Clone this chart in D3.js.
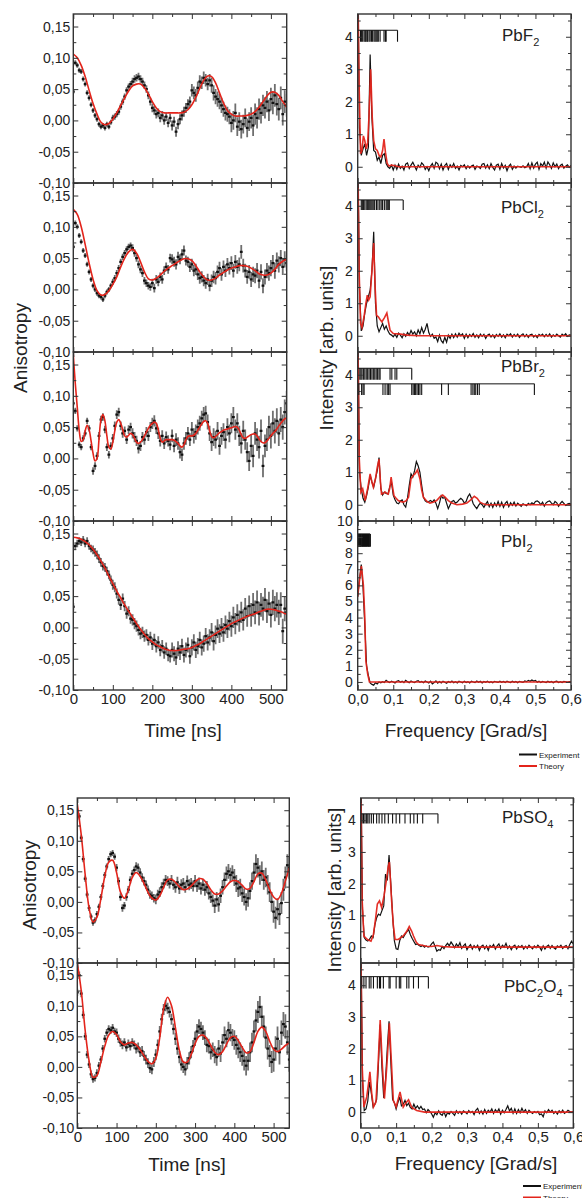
<!DOCTYPE html>
<html>
<head>
<meta charset="utf-8">
<script src="https://cdn.jsdelivr.net/npm/d3@7"></script>
<style>
body { margin: 0; background: #fff; }
svg { display: block; font-family: "Liberation Sans", Arial, sans-serif; }
</style>
</head>
<body>
<svg id="fig" width="582" height="1198"></svg>
<script>
// ---- data ----
// anisotropy: experiment every 5 ns from 0 to 540 ns, fits every 10 ns (PbBr2 every 5 ns)
const expStep = 5;
const timeTicks = [0, 100, 200, 300, 400, 500];
const anisTicks = [-0.10, -0.05, 0.00, 0.05, 0.10, 0.15];
const freqTicks = [0, 0.1, 0.2, 0.3, 0.4, 0.5, 0.6];
const intTicks = [0, 1, 2, 3, 4];
const intTicksI2 = [0, 1, 2, 3, 4, 5, 6, 7, 8, 9, 10];

const anisF2 = [
  0.046,0.092,0.088,0.080,0.078,0.066,0.058,0.044,0.036,0.025,
  0.016,0.008,0.002,-0.006,-0.010,-0.008,-0.012,-0.006,-0.010,-0.003,
  0.004,0.006,0.010,0.014,0.022,0.030,0.038,0.048,0.054,0.058,
  0.062,0.066,0.068,0.070,0.066,0.062,0.056,0.050,0.040,0.030,
  0.020,0.016,0.010,0.012,0.004,0.008,0.000,0.006,-0.004,0.004,
  -0.008,-0.002,-0.018,-0.006,0.002,0.008,0.014,0.020,0.026,0.030,
  0.048,0.044,0.040,0.052,0.062,0.060,0.068,0.064,0.058,0.064,
  0.056,0.044,0.038,0.034,0.030,0.024,0.018,0.012,0.010,0.006,
  -0.004,0.000,0.012,-0.010,-0.002,-0.014,-0.006,0.004,-0.012,-0.002,
  0.004,-0.008,0.010,0.004,0.018,0.012,0.024,0.020,0.030,0.016,
  0.034,0.028,0.040,0.026,0.018,0.036,0.010,0.030,0.024];
const fitF2 = [
  0.106,0.100,0.088,0.070,0.048,0.027,0.010,-0.003,-0.007,-0.005,
  0.002,0.012,0.024,0.036,0.047,0.055,0.058,0.058,0.052,0.042,
  0.030,0.020,0.014,0.012,0.012,0.012,0.012,0.012,0.013,0.017,
  0.025,0.037,0.051,0.064,0.071,0.070,0.060,0.044,0.028,0.016,
  0.010,0.007,0.007,0.007,0.008,0.010,0.014,0.021,0.030,0.039,
  0.045,0.045,0.040,0.030,0.021];
const errF2 = [0.004,0.004,0.005,0.006,0.007,0.008,0.010,0.012,0.015,0.017,0.018];

const anisCl2 = [
  0.068,0.106,0.100,0.086,0.076,0.062,0.054,0.040,0.028,0.016,
  0.006,0.000,-0.006,-0.010,-0.012,-0.016,-0.010,-0.004,0.000,0.006,
  0.012,0.018,0.026,0.034,0.044,0.052,0.058,0.064,0.068,0.070,
  0.066,0.058,0.050,0.040,0.032,0.026,0.014,0.010,0.006,0.004,
  0.010,0.002,0.016,0.012,0.020,0.016,0.030,0.036,0.032,0.050,
  0.048,0.044,0.040,0.052,0.048,0.056,0.062,0.046,0.044,0.036,
  0.040,0.030,0.032,0.024,0.018,0.020,0.014,0.010,0.016,0.006,
  0.014,0.020,0.018,0.028,0.034,0.024,0.036,0.030,0.040,0.034,
  0.042,0.030,0.044,0.036,0.040,0.060,0.038,0.030,0.020,0.028,
  0.016,0.024,0.022,0.030,0.014,0.028,0.006,0.020,0.030,0.026,
  0.034,0.042,0.030,0.046,0.040,0.050,0.036,0.048,0.042];
const fitCl2 = [
  0.128,0.120,0.100,0.072,0.042,0.016,-0.002,-0.009,-0.008,-0.002,
  0.008,0.020,0.036,0.050,0.060,0.064,0.058,0.044,0.028,0.017,
  0.015,0.018,0.023,0.029,0.034,0.038,0.042,0.046,0.049,0.049,
  0.046,0.038,0.028,0.020,0.015,0.015,0.018,0.023,0.027,0.031,
  0.034,0.036,0.038,0.038,0.037,0.034,0.030,0.025,0.023,0.023,
  0.026,0.032,0.040,0.045,0.048];
const errCl2 = [0.004,0.004,0.005,0.006,0.007,0.008,0.009,0.010,0.011,0.012,0.013];

const anisBr2 = [
  0.088,0.076,0.048,0.022,0.018,0.032,0.040,0.060,0.048,0.018,
  -0.020,-0.012,0.004,0.036,0.062,0.066,0.046,0.018,0.006,0.020,
  0.032,0.052,0.070,0.074,0.052,0.040,0.044,0.030,0.046,0.050,
  0.040,0.034,0.028,0.016,0.020,0.034,0.030,0.042,0.036,0.050,
  0.056,0.060,0.048,0.040,0.028,0.036,0.024,0.034,0.028,0.022,
  0.036,0.020,0.030,0.024,0.010,0.006,0.024,0.032,0.040,0.030,
  0.046,0.036,0.042,0.050,0.056,0.064,0.070,0.072,0.058,0.040,
  0.026,0.034,0.030,0.044,0.020,0.036,0.042,0.030,0.050,0.040,
  0.056,0.066,0.046,0.056,0.036,0.024,0.044,0.030,0.010,-0.004,
  0.020,0.004,0.040,0.030,0.018,0.044,-0.012,0.020,0.030,0.050,
  0.036,0.056,0.044,0.060,0.040,0.062,0.050,0.074,0.088];
const fitBr2 = [
  0.166,0.120,0.082,0.045,0.027,0.030,0.044,0.053,0.046,0.028,
  0.008,-0.004,0.000,0.030,0.062,0.070,0.060,0.036,0.018,0.015,
  0.026,0.044,0.058,0.062,0.056,0.046,0.036,0.034,0.037,0.040,
  0.038,0.032,0.026,0.024,0.026,0.030,0.036,0.042,0.048,0.053,
  0.056,0.058,0.056,0.046,0.032,0.026,0.028,0.030,0.030,0.030,
  0.030,0.029,0.027,0.024,0.020,0.018,0.022,0.030,0.035,0.036,
  0.036,0.037,0.040,0.045,0.050,0.055,0.059,0.060,0.056,0.044,
  0.035,0.033,0.035,0.038,0.041,0.043,0.045,0.046,0.047,0.048,
  0.049,0.050,0.051,0.050,0.045,0.038,0.033,0.032,0.034,0.036,
  0.038,0.039,0.039,0.036,0.031,0.027,0.025,0.025,0.028,0.032,
  0.036,0.040,0.043,0.047,0.052,0.056,0.060,0.063,0.065];
const errBr2 = [0.005,0.006,0.007,0.008,0.009,0.010,0.012,0.014,0.016,0.018,0.020];

const anisI2 = [
  0.033,0.130,0.134,0.138,0.136,0.140,0.134,0.138,0.130,0.126,
  0.124,0.120,0.116,0.110,0.104,0.098,0.096,0.090,0.084,0.076,
  0.068,0.064,0.054,0.044,0.036,0.046,0.034,0.022,0.026,0.014,
  0.012,0.006,0.002,-0.004,-0.010,-0.008,-0.014,-0.012,-0.020,-0.016,
  -0.026,-0.020,-0.030,-0.024,-0.036,-0.030,-0.040,-0.034,-0.044,-0.046,
  -0.036,-0.042,-0.048,-0.034,-0.040,-0.030,-0.044,-0.036,-0.028,-0.046,
  -0.032,-0.024,-0.036,-0.030,-0.020,-0.032,-0.026,-0.014,-0.024,-0.016,
  -0.008,-0.022,-0.012,-0.002,-0.010,0.000,-0.008,0.004,-0.002,0.010,
  0.002,0.016,0.006,0.020,0.010,0.024,0.012,0.030,0.018,0.034,
  0.020,0.036,0.024,0.040,0.022,0.036,0.030,0.044,0.026,0.038,
  0.020,0.040,0.030,0.036,0.024,0.036,-0.006,0.030,0.024];
const fitI2 = [
  0.144,0.143,0.141,0.137,0.132,0.125,0.116,0.106,0.095,0.082,
  0.070,0.058,0.047,0.036,0.026,0.016,0.006,-0.003,-0.011,-0.018,
  -0.023,-0.028,-0.031,-0.034,-0.036,-0.037,-0.037,-0.036,-0.035,-0.034,
  -0.032,-0.029,-0.026,-0.022,-0.018,-0.014,-0.010,-0.006,-0.002,0.002,
  0.006,0.009,0.012,0.015,0.018,0.020,0.022,0.025,0.027,0.029,
  0.029,0.028,0.026,0.024,0.021];
const errI2 = [0.006,0.007,0.008,0.009,0.010,0.012,0.013,0.015,0.017,0.019,0.020];

const anisSO4 = [
  0.140,0.140,0.105,0.070,0.038,0.012,-0.010,-0.024,-0.034,-0.030,
  -0.020,-0.008,0.008,0.026,0.044,0.058,0.070,0.078,0.080,0.074,
  0.056,0.034,0.008,-0.010,-0.006,0.008,0.020,0.036,0.046,0.052,
  0.058,0.056,0.048,0.040,0.034,0.028,0.020,0.012,0.010,0.006,
  0.004,0.012,0.016,0.024,0.030,0.036,0.034,0.030,0.036,0.028,
  0.024,0.032,0.022,0.028,0.030,0.024,0.034,0.028,0.030,0.026,
  0.034,0.026,0.030,0.022,0.028,0.020,0.024,0.014,0.008,0.002,
  -0.006,0.004,-0.004,0.010,0.024,0.036,0.046,0.050,0.044,0.048,
  0.040,0.030,0.022,0.024,0.014,0.008,0.000,0.006,0.018,0.034,
  0.048,0.062,0.056,0.044,0.050,0.036,0.040,0.028,0.016,0.000,
  -0.016,-0.026,-0.012,-0.020,-0.002,0.020,0.040,0.060,0.056];
const fitSO4 = [
  0.160,0.110,0.045,-0.010,-0.033,-0.025,0.005,0.042,0.065,0.068,
  0.048,0.016,0.006,0.020,0.040,0.048,0.042,0.030,0.016,0.006,
  0.003,0.010,0.024,0.036,0.037,0.032,0.025,0.020,0.021,0.026,
  0.033,0.038,0.037,0.030,0.020,0.013,0.013,0.018,0.026,0.033,
  0.035,0.033,0.027,0.021,0.022,0.033,0.046,0.047,0.036,0.020,
  0.008,0.004,0.014,0.034,0.056];
const errSO4 = [0.005,0.005,0.006,0.007,0.008,0.009,0.010,0.012,0.014,0.016,0.018];

const anisC2O4 = [
  0.122,0.150,0.120,0.085,0.050,0.020,0.004,-0.012,-0.020,-0.018,
  -0.010,0.002,0.012,0.030,0.046,0.056,0.062,0.060,0.064,0.058,
  0.056,0.046,0.040,0.036,0.040,0.032,0.038,0.034,0.040,0.036,
  0.030,0.032,0.024,0.026,0.018,0.012,0.006,-0.002,-0.004,0.008,
  0.020,0.036,0.058,0.078,0.094,0.100,0.096,0.090,0.078,0.062,
  0.046,0.030,0.016,0.004,0.000,-0.004,0.006,0.014,0.024,0.034,
  0.046,0.058,0.066,0.062,0.056,0.048,0.036,0.034,0.024,0.028,
  0.020,0.016,0.030,0.022,0.040,0.052,0.046,0.060,0.056,0.048,
  0.044,0.036,0.030,0.024,0.018,0.010,0.002,0.010,0.024,0.040,
  0.058,0.076,0.090,0.098,0.082,0.066,0.048,0.030,0.018,0.008,
  0.012,0.030,0.046,0.024,0.056,0.070,0.066,0.040,0.012];
const fitC2O4 = [
  0.170,0.125,0.060,0.010,-0.017,-0.014,0.008,0.034,0.052,0.058,
  0.053,0.041,0.036,0.039,0.040,0.036,0.028,0.018,0.009,0.005,
  0.014,0.048,0.095,0.114,0.100,0.064,0.027,0.008,0.008,0.020,
  0.038,0.050,0.052,0.046,0.035,0.024,0.020,0.025,0.037,0.048,
  0.050,0.043,0.032,0.023,0.025,0.040,0.058,0.065,0.058,0.042,
  0.029,0.025,0.029,0.035,0.039];
const errC2O4 = [0.006,0.006,0.007,0.008,0.009,0.010,0.012,0.014,0.016,0.018,0.020];

// spectra: experiment every 0.005 Grad/s from 0 to 0.6, theory as [freq, value]
const specStep = 0.005;
const specF2 = [
  6.0,1.2,0.35,0.55,0.7,0.35,0.6,3.45,1.5,0.5,
  0.45,0.2,0.3,0.1,0.35,0.4,0.1,0.0,-0.05,0.05,
  -0.1,0.05,-0.08,0.08,-0.05,0.02,-0.1,0.08,0.12,-0.05,
  0.05,0.14,0.02,-0.1,0.05,-0.02,0.12,0.06,-0.08,0.0,
  -0.12,0.02,0.1,-0.05,0.14,0.1,-0.06,0.08,-0.1,0.04,
  0.1,-0.08,0.06,-0.02,0.1,-0.05,0.02,-0.1,0.04,0.0,
  0.06,-0.06,0.03,-0.04,0.02,0.05,-0.08,0.02,0.0,-0.05,
  0.08,0.1,-0.04,0.06,-0.06,0.1,-0.02,-0.1,0.05,0.08,
  -0.08,0.1,-0.04,0.04,-0.12,0.02,0.08,-0.08,0.02,-0.04,
  0.02,0.0,-0.02,0.03,-0.03,0.0,0.1,-0.06,0.12,-0.04,
  0.08,0.14,-0.08,0.1,0.02,0.14,-0.04,0.15,0.06,-0.05,
  0.12,0.0,0.08,-0.06,0.04,0.08,-0.04,0.02,0.06,-0.02,
  0.04];
const theoF2 = [[0,6],[0.004,2.5],[0.008,0.4],[0.012,0.5],[0.016,0.95],[0.02,0.8],[0.024,0.55],
  [0.028,0.75],[0.032,1.6],[0.0365,3.0],[0.041,1.5],[0.045,0.8],[0.05,0.55],[0.055,0.5],[0.06,0.35],
  [0.065,0.3],[0.07,0.5],[0.074,0.85],[0.078,0.45],[0.083,0.1],[0.088,0.02],[0.095,0.05],[0.105,0.03],
  [0.115,0],[0.6,0]];
const sticksF2 = [0.008,0.011,0.014,0.018,0.021,0.023,0.026,0.028,0.032,0.035,0.039,0.042,0.046,
  0.049,0.052,0.055,0.058,0.063,0.074,0.078,0.080,0.112];

const specCl2 = [
  6.0,1.5,0.15,0.3,0.7,1.0,1.2,1.4,2.0,3.2,
  1.0,0.3,0.12,0.25,0.38,0.2,0.3,0.15,0.05,0.02,
  -0.03,0.05,-0.05,0.08,0.02,-0.06,0.06,-0.02,0.1,0.02,
  0.16,0.05,0.12,0.0,0.18,0.06,0.25,0.08,0.2,0.38,
  0.1,-0.02,0.05,-0.08,-0.04,-0.18,0.02,-0.15,-0.22,-0.05,
  -0.2,0.02,-0.08,0.05,-0.06,0.06,-0.04,0.08,0.0,0.06,
  -0.08,0.05,-0.06,0.04,-0.02,0.07,-0.05,0.03,-0.06,0.05,
  -0.02,0.04,-0.08,0.02,0.05,-0.04,0.03,-0.06,0.04,-0.02,
  0.06,-0.04,0.03,-0.06,0.05,0.0,0.06,-0.04,0.04,-0.02,
  0.05,-0.05,0.02,0.06,-0.03,0.04,-0.05,0.03,0.05,-0.04,
  0.02,-0.06,0.04,0.0,0.05,-0.03,0.04,-0.02,0.06,-0.04,
  0.03,-0.02,0.05,0.0,-0.04,0.05,0.0,0.06,-0.02,0.03,
  0.02];
const theoCl2 = [[0,6],[0.004,2.0],[0.008,0.38],[0.012,0.25],[0.018,0.6],[0.023,1.0],[0.027,1.25],
  [0.031,1.1],[0.035,1.2],[0.04,2.0],[0.045,2.85],[0.049,1.5],[0.053,0.63],[0.058,0.58],[0.063,0.5],
  [0.068,0.43],[0.075,0.55],[0.082,0.7],[0.087,0.4],[0.091,0.17],[0.1,0.07],[0.12,0.05],[0.14,0.02],
  [0.17,0],[0.6,0]];
const sticksCl2 = [0.010,0.013,0.016,0.020,0.024,0.028,0.031,0.034,0.037,0.040,0.043,0.046,0.048,
  0.053,0.057,0.062,0.066,0.070,0.075,0.080,0.083,0.086,0.089,0.128];

const specBr2 = [
  6.0,1.0,0.49,0.2,0.08,0.28,0.55,0.9,0.7,0.54,
  0.8,1.05,1.45,0.5,0.3,0.39,0.35,0.33,0.55,0.69,
  0.3,0.15,0.05,0.03,0.12,0.15,0.0,-0.07,0.2,0.6,
  0.95,0.85,1.05,1.33,1.2,1.0,0.6,0.23,0.12,0.08,
  0.1,0.13,0.08,0.15,0.05,-0.12,0.05,0.28,0.2,0.23,
  0.05,-0.12,0.0,0.1,0.13,0.05,0.08,0.15,0.2,0.15,
  0.05,0.1,0.25,0.33,0.2,0.03,-0.05,-0.12,-0.02,0.05,
  0.0,-0.08,0.02,0.1,-0.06,0.05,-0.08,0.06,-0.04,0.1,
  -0.05,0.08,-0.08,0.04,0.1,-0.06,0.06,-0.02,0.08,-0.04,
  0.05,0.0,-0.05,0.03,0.0,-0.03,0.04,0.0,0.06,0.02,
  0.1,0.12,0.08,0.0,0.08,-0.04,0.06,0.1,0.12,0.05,
  0.0,0.1,0.06,-0.05,0.04,0.1,0.04,-0.02,0.02,0.04,
  0.02];
const theoBr2 = [[0,6],[0.004,1.5],[0.009,0.39],[0.014,0.49],[0.021,0.13],[0.028,0.5],[0.035,0.95],
  [0.04,0.7],[0.044,0.54],[0.05,0.8],[0.055,1.15],[0.06,1.4],[0.064,0.7],[0.067,0.33],[0.072,0.35],
  [0.077,0.39],[0.082,0.35],[0.086,0.33],[0.09,0.5],[0.094,0.85],[0.098,0.55],[0.102,0.28],[0.108,0.2],
  [0.114,0.13],[0.12,0.1],[0.128,0.08],[0.136,0.12],[0.143,0.23],[0.15,0.8],[0.156,0.9],[0.161,0.95],
  [0.168,1.07],[0.175,0.8],[0.18,0.45],[0.185,0.23],[0.195,0.1],[0.203,0.05],[0.212,0.08],[0.222,0.13],
  [0.232,0.25],[0.239,0.3],[0.247,0.22],[0.255,0.13],[0.265,0.05],[0.279,0],[0.295,0.02],[0.307,0.05],
  [0.318,0.15],[0.328,0.26],[0.336,0.2],[0.344,0.08],[0.355,0.02],[0.363,0],[0.6,0]];
const sticksBr2a = [0.006,0.009,0.012,0.016,0.020,0.024,0.028,0.032,0.036,0.040,0.044,0.048,0.052,
  0.056,0.060,0.063,0.091,0.096,0.105,0.110,0.152];
const sticksBr2b = [0.003,0.011,0.015,0.018,0.071,0.077,0.083,0.087,0.091,0.152,0.156,0.160,0.163,
  0.167,0.171,0.175,0.180,0.236,0.255,0.319,0.324,0.328,0.332,0.337,0.342,0.497];

const specI2 = [
  5.3,6.4,7.3,5.9,3.5,1.0,0.4,-0.06,-0.15,-0.2,
  -0.05,-0.12,0.0,-0.05,0.02,-0.03,0.1,0.02,-0.04,0.05,
  0.0,-0.06,0.04,0.08,-0.02,0.05,-0.04,0.1,0.02,-0.05,
  0.06,0.0,-0.04,0.04,0.08,-0.02,0.03,-0.05,0.06,0.0,
  -0.06,0.05,-0.12,-0.04,0.06,-0.08,0.02,-0.06,0.05,-0.02,
  -0.08,0.03,-0.04,0.05,-0.05,0.02,-0.06,0.04,0.0,-0.05,
  0.05,-0.03,0.02,-0.06,0.04,0.0,-0.04,0.06,-0.02,0.04,
  -0.06,0.03,-0.02,0.05,-0.04,0.02,-0.05,0.04,0.0,-0.03,
  0.04,-0.02,0.03,-0.04,0.05,0.0,-0.04,0.04,-0.02,0.03,
  -0.05,0.04,0.0,-0.03,0.06,0.02,0.1,0.04,0.12,0.06,
  0.1,-0.02,0.05,-0.04,0.03,0.0,-0.04,0.04,-0.02,0.03,
  -0.05,0.02,0.05,-0.03,0.02,-0.04,0.03,0.0,-0.03,0.02,
  0.0];
const theoI2 = [[0,5.3],[0.005,6.3],[0.0105,7.2],[0.016,6.0],[0.02,4.0],[0.023,1.3],[0.028,0.5],
  [0.033,0],[0.6,0]];
const sticksI2 = [0.002,0.004,0.007,0.009,0.012,0.014,0.017,0.019,0.022,0.024,0.027,0.030,0.032,0.035];

const specSO4 = [
  6.0,1.2,0.3,0.22,0.19,0.25,0.35,0.3,0.7,0.93,
  1.04,1.0,1.15,1.3,2.3,2.1,2.9,2.0,1.0,0.2,
  -0.05,-0.07,0.2,0.35,0.3,0.4,0.48,0.56,0.4,0.28,
  0.18,0.08,0.1,0.05,0.02,0.06,0.0,0.04,0.0,0.02,
  0.1,0.16,0.02,-0.13,-0.08,-0.1,0.02,-0.05,0.05,0.12,
  0.04,0.16,0.08,-0.02,0.1,0.02,0.14,-0.04,0.04,0.1,
  -0.08,0.02,0.08,-0.06,0.05,-0.02,0.06,-0.1,0.02,0.06,
  -0.05,0.04,-0.1,0.05,0.0,0.08,-0.06,0.04,0.1,-0.04,
  0.06,0.0,0.12,-0.04,0.04,-0.08,0.02,0.06,-0.06,0.04,
  0.0,0.05,-0.06,0.03,-0.04,0.06,0.0,-0.05,0.04,-0.02,
  0.06,0.0,-0.1,0.04,-0.06,0.02,0.06,-0.04,0.05,-0.02,
  -0.06,0.04,0.0,0.06,-0.04,0.02,0.05,-0.05,0.08,0.19,
  0.1];
const theoSO4 = [[0,6],[0.004,1.5],[0.009,0.35],[0.019,0.24],[0.029,0.19],[0.036,0.4],[0.042,0.9],
  [0.047,1.36],[0.053,1.46],[0.059,1.25],[0.066,1.62],[0.073,2.15],[0.078,2.55],[0.081,2.68],[0.087,1.5],
  [0.092,0.7],[0.097,0.24],[0.106,0.24],[0.12,0.35],[0.13,0.5],[0.137,0.65],[0.144,0.5],[0.149,0.35],
  [0.157,0.15],[0.163,0.08],[0.186,0.03],[0.2,0.02],[0.215,0.05],[0.23,0.02],[0.26,0],[0.6,0]];
const sticksSO4 = [0.004,0.008,0.012,0.016,0.020,0.024,0.030,0.036,0.045,0.052,0.060,0.068,0.078,
  0.090,0.100,0.110,0.125,0.140,0.150,0.160,0.175,0.218];

const specC2O4 = [
  6.0,1.0,0.05,0.1,0.35,0.95,0.6,0.16,0.25,0.4,
  1.5,2.76,1.4,0.45,1.0,2.0,2.86,1.6,0.4,0.3,
  0.1,0.3,0.48,0.2,0.25,0.37,0.2,0.28,0.15,0.1,
  0.25,0.12,0.2,0.1,0.18,0.08,0.1,-0.02,0.08,0.02,
  -0.05,-0.16,-0.02,-0.08,0.04,-0.06,-0.1,0.02,-0.14,-0.02,
  -0.06,0.02,-0.04,-0.1,0.04,-0.04,0.02,-0.06,0.04,0.0,
  -0.05,0.05,-0.02,0.02,-0.08,0.06,0.12,-0.04,0.04,-0.06,
  0.08,-0.04,0.06,0.0,0.1,-0.04,0.08,0.0,0.1,-0.06,
  0.06,-0.02,0.08,0.2,0.04,0.12,-0.04,0.1,-0.04,0.08,
  -0.02,0.12,0.0,0.08,-0.04,0.06,0.0,-0.04,0.02,-0.02,
  0.02,-0.08,-0.06,-0.15,0.04,-0.02,0.08,0.0,0.06,-0.04,
  0.02,-0.06,0.04,-0.02,0.06,-0.04,0.0,0.06,0.02,0.0,
  0.02];
const theoC2O4 = [[0,6],[0.004,1.5],[0.009,0.16],[0.017,0.48],[0.022,0.9],[0.026,1.27],[0.031,0.6],
  [0.036,0.16],[0.043,0.32],[0.049,1.5],[0.055,2.9],[0.061,1.5],[0.067,0.42],[0.074,1.5],[0.081,2.8],
  [0.087,1.5],[0.092,0.37],[0.1,0.16],[0.111,0.64],[0.12,0.16],[0.128,0.3],[0.135,0.39],[0.144,0.15],
  [0.158,0.05],[0.18,0],[0.6,0]];
const sticksC2O4 = [0.003,0.009,0.015,0.024,0.029,0.036,0.047,0.053,0.056,0.064,0.080,0.083,0.100,
  0.109,0.113,0.130,0.136,0.149,0.163,0.191];

// ---- drawing ----
const svg = d3.select('#fig');
const frameColor = '#333';
const fitRed = '#e3241b';
const font = '"Liberation Sans", Arial, sans-serif';

function comma(v, n) {
  return (v < 0 ? '-' : '') + Math.abs(v).toFixed(n).replace('.', ',');
}

let clipCount = 0;
function clipRect(x0, y0, x1, y1) {
  const id = 'clip' + (clipCount++);
  svg.append('clipPath').attr('id', id).append('rect')
    .attr('x', x0).attr('y', y0).attr('width', x1 - x0).attr('height', y1 - y0);
  return 'url(#' + id + ')';
}

function styleAxis(g, size) {
  g.select('.domain').remove();
  g.selectAll('.tick line').attr('stroke', frameColor).attr('stroke-width', 1);
  g.selectAll('.tick text').attr('fill', '#222').attr('font-size', size).attr('font-family', font);
}

function frameAxes(x, y, o) {
  const [x0, x1] = x.range();
  const [y1, y0] = y.range();
  svg.append('g').attr('transform', `translate(${x0},0)`)
    .call(d3.axisLeft(y).tickValues(o.yMajor).tickSize(-5).tickPadding(o.yPad).tickFormat(o.yFmt))
    .call(g => styleAxis(g, o.ySize));
  svg.append('g').attr('transform', `translate(${x0},0)`)
    .call(d3.axisLeft(y).tickValues(o.yMinor).tickSize(-3).tickFormat(''))
    .call(g => styleAxis(g, 0));
  svg.append('g').attr('transform', `translate(${x1},0)`)
    .call(d3.axisRight(y).tickValues(o.yMajor).tickSize(-5).tickFormat(''))
    .call(g => styleAxis(g, 0));
  svg.append('g').attr('transform', `translate(${x1},0)`)
    .call(d3.axisRight(y).tickValues(o.yMinor).tickSize(-3).tickFormat(''))
    .call(g => styleAxis(g, 0));
  svg.append('g').attr('transform', `translate(0,${y0})`)
    .call(d3.axisTop(x).tickValues(o.xMajor).tickSize(-5).tickFormat(''))
    .call(g => styleAxis(g, 0));
  svg.append('g').attr('transform', `translate(0,${y0})`)
    .call(d3.axisTop(x).tickValues(o.xMinor).tickSize(-3).tickFormat(''))
    .call(g => styleAxis(g, 0));
  svg.append('g').attr('transform', `translate(0,${y1})`)
    .call(d3.axisBottom(x).tickValues(o.xMajor).tickSize(-5).tickPadding(3)
      .tickFormat(o.xLabels ? o.xFmt : ''))
    .call(g => styleAxis(g, 15));
  svg.append('g').attr('transform', `translate(0,${y1})`)
    .call(d3.axisBottom(x).tickValues(o.xMinor).tickSize(-3).tickFormat(''))
    .call(g => styleAxis(g, 0));
  svg.append('rect').attr('x', x0).attr('y', y0).attr('width', x1 - x0).attr('height', y1 - y0)
    .attr('fill', 'none').attr('stroke', frameColor).attr('stroke-width', 1.4);
}

function timePanel(p) {
  const x = d3.scaleLinear().domain([0, 540]).range([p.x0, p.x1]);
  const y = d3.scaleLinear().domain([-0.10, 0.17]).range([p.y1, p.y0]);
  const g = svg.append('g').attr('clip-path', clipRect(p.x0, p.y0, p.x1, p.y1));
  const pts = p.exp.map((v, i) => ({ t: i * expStep, v: v, e: p.err[Math.floor(i * expStep / 50)] }));
  g.append('g').selectAll('line').data(pts).join('line')
    .attr('x1', d => x(d.t)).attr('x2', d => x(d.t))
    .attr('y1', d => y(d.v - d.e)).attr('y2', d => y(d.v + d.e))
    .attr('stroke', '#6f6f6f').attr('stroke-width', 1.8);
  g.append('g').selectAll('rect').data(pts).join('rect')
    .attr('x', d => x(d.t) - 1.4).attr('y', d => y(d.v) - 1.1)
    .attr('width', 2.8).attr('height', 2.2).attr('fill', '#111');
  const fit = p.fit.map((v, i) => [i * p.fitStep, v]);
  g.append('path').datum(fit)
    .attr('d', d3.line().x(d => x(d[0])).y(d => y(d[1])).curve(d3.curveCatmullRom))
    .attr('fill', 'none').attr('stroke', fitRed).attr('stroke-width', 1.6);
  frameAxes(x, y, {
    yMajor: anisTicks, yMinor: d3.range(-0.075, 0.16, 0.05), yFmt: v => comma(v, 2), yPad: 3, ySize: 14,
    xMajor: timeTicks, xMinor: d3.range(50, 540, 100), xFmt: d3.format('d'), xLabels: p.labels
  });
}

function specPanel(p) {
  const x = d3.scaleLinear().domain([0, 0.6]).range([p.x0, p.x1]);
  const y = d3.scaleLinear().domain(p.yDomain).range([p.y1, p.y0]);
  const g = svg.append('g').attr('clip-path', clipRect(p.x0, p.y0, p.x1, p.y1));
  const line = d3.line().x(d => x(d[0])).y(d => y(d[1]));
  g.append('path').datum(p.exp.map((v, i) => [i * specStep, v])).attr('d', line)
    .attr('fill', 'none').attr('stroke', '#111').attr('stroke-width', 1.2);
  g.append('path').datum(p.theory).attr('d', line)
    .attr('fill', 'none').attr('stroke', fitRed).attr('stroke-width', 1.6).attr('stroke-opacity', 0.95);
  p.sticks.forEach(s => {
    const sg = g.append('g').attr('stroke', '#111');
    sg.append('line').attr('x1', x(0)).attr('x2', x(d3.max(s.freqs)))
      .attr('y1', y(s.top)).attr('y2', y(s.top)).attr('stroke-width', 1);
    sg.selectAll('line.stick').data(s.freqs).join('line').attr('class', 'stick')
      .attr('x1', d => x(d)).attr('x2', d => x(d))
      .attr('y1', y(s.top)).attr('y2', y(s.bottom)).attr('stroke-width', s.width);
  });
  const lab = svg.append('text').attr('x', p.lx).attr('y', p.ly)
    .attr('font-size', 17).attr('fill', '#222').attr('font-family', font);
  p.name.forEach(([t, sub]) => {
    if (sub) lab.append('tspan').attr('font-size', 11).attr('dy', 5).text(t);
    else lab.append('tspan').attr('dy', lab.selectAll('tspan').size() ? -5 : 0).text(t);
  });
  const maxT = p.yDomain[1];
  frameAxes(x, y, {
    yMajor: p.yTicks, yMinor: d3.range(0.5, maxT, 1), yFmt: d3.format('d'), yPad: 5, ySize: 14,
    xMajor: freqTicks, xMinor: d3.range(0.05, 0.6, 0.1), xFmt: v => comma(v, 1), xLabels: p.labels
  });
}

// top block
const topRows = [14, 183, 352, 521, 690];
const tL = { x0: 73.3, x1: 286.7 }, tR = { x0: 357.7, x1: 571 };
const topTime = [
  { exp: anisF2, fit: fitF2, fitStep: 10, err: errF2 },
  { exp: anisCl2, fit: fitCl2, fitStep: 10, err: errCl2 },
  { exp: anisBr2, fit: fitBr2, fitStep: 5, err: errBr2 },
  { exp: anisI2, fit: fitI2, fitStep: 10, err: errI2 }];
topTime.forEach((d, i) => timePanel(Object.assign({}, d, tL,
  { y0: topRows[i], y1: topRows[i + 1], labels: i === 3 })));

const topSpec = [
  { name: [['PbF', 0], ['2', 1]], exp: specF2, theory: theoF2, yDomain: [-0.5, 4.7], yTicks: intTicks,
    sticks: [{ freqs: sticksF2, top: 4.2, bottom: 3.85, width: 1.1 }], lx: 502, ly: 46 },
  { name: [['PbCl', 0], ['2', 1]], exp: specCl2, theory: theoCl2, yDomain: [-0.5, 4.7], yTicks: intTicks,
    sticks: [{ freqs: sticksCl2, top: 4.18, bottom: 3.87, width: 1.1 }], lx: 501, ly: 218 },
  { name: [['PbBr', 0], ['2', 1]], exp: specBr2, theory: theoBr2, yDomain: [-0.5, 4.7], yTicks: intTicks,
    sticks: [{ freqs: sticksBr2a, top: 4.2, bottom: 3.85, width: 1.1 },
             { freqs: sticksBr2b, top: 3.72, bottom: 3.38, width: 1.1 }], lx: 501, ly: 377 },
  { name: [['PbI', 0], ['2', 1]], exp: specI2, theory: theoI2, yDomain: [-0.5, 10], yTicks: intTicksI2,
    sticks: [{ freqs: sticksI2, top: 9.2, bottom: 8.4, width: 1.6 }], lx: 501, ly: 552 }];
topSpec.forEach((d, i) => specPanel(Object.assign({}, d, tR,
  { y0: topRows[i], y1: topRows[i + 1], labels: i === 3 })));

// bottom block
const botRows = [798, 963, 1128];
const bL = { x0: 77.3, x1: 289.3 }, bR = { x0: 360.7, x1: 573.3 };
[{ exp: anisSO4, fit: fitSO4, fitStep: 10, err: errSO4 },
 { exp: anisC2O4, fit: fitC2O4, fitStep: 10, err: errC2O4 }]
  .forEach((d, i) => timePanel(Object.assign({}, d, bL,
    { y0: botRows[i], y1: botRows[i + 1], labels: i === 1 })));
[{ name: [['PbSO', 0], ['4', 1]], exp: specSO4, theory: theoSO4, yDomain: [-0.5, 4.7], yTicks: intTicks,
   sticks: [{ freqs: sticksSO4, top: 4.2, bottom: 3.9, width: 1.1 }], lx: 502, ly: 828 },
 { name: [['PbC', 0], ['2', 1], ['O', 0], ['4', 1]], exp: specC2O4, theory: theoC2O4, yDomain: [-0.5, 4.7],
   yTicks: intTicks, sticks: [{ freqs: sticksC2O4, top: 4.27, bottom: 3.9, width: 1.1 }], lx: 504, ly: 997 }]
  .forEach((d, i) => specPanel(Object.assign({}, d, bR,
    { y0: botRows[i], y1: botRows[i + 1], labels: i === 1 })));

// axis titles
function title(txt, x, y, rot) {
  svg.append('text').attr('transform', `translate(${x},${y})` + (rot ? ' rotate(-90)' : ''))
    .attr('text-anchor', 'middle').attr('font-size', 19).attr('fill', '#222')
    .attr('font-family', font).text(txt);
}
title('Anisotropy', 27, 348, true);
title('Intensity [arb. units]', 333, 348, true);
title('Time [ns]', 183, 737, false);
title('Frequency [Grad/s]', 466, 737, false);
title('Anisotropy', 36, 885, true);
title('Intensity [arb. units]', 341, 890, true);
title('Time [ns]', 187, 1171, false);
title('Frequency [Grad/s]', 476, 1170, false);

// legends
function legend(x, y) {
  [['Experiment', '#111', 0], ['Theory', fitRed, 11.5]].forEach(([t, c, dy]) => {
    svg.append('line').attr('x1', x).attr('x2', x + 18).attr('y1', y + dy).attr('y2', y + dy)
      .attr('stroke', c).attr('stroke-width', 2);
    svg.append('text').attr('x', x + 20).attr('y', y + dy + 3).attr('font-size', 8)
      .attr('fill', '#222').attr('font-family', font).text(t);
  });
}
legend(519, 754.5);
legend(523, 1186);
</script>
</body>
</html>
